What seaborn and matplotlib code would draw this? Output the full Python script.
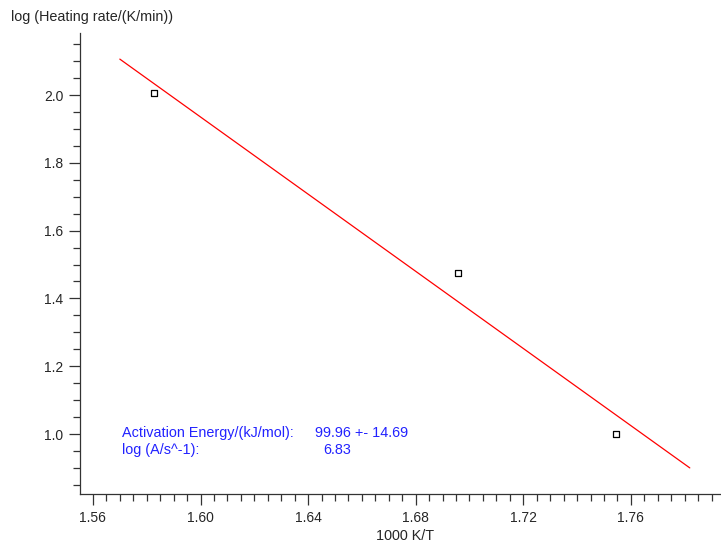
import matplotlib
matplotlib.use("Agg")
import matplotlib.pyplot as plt
import seaborn as sns
import pandas as pd
from matplotlib.ticker import MultipleLocator

inv_T = [1.5827, 1.6957, 1.7544]
log_rate = [2.006, 1.475, 1.000]
fit_x = [1.570, 1.7819]
fit_y = [2.106, 0.900]
xticks = [1.56, 1.60, 1.64, 1.68, 1.72, 1.76]
yticks = [1.0, 1.2, 1.4, 1.6, 1.8, 2.0]

sns.set_style("ticks")
plt.rcParams['font.family'] = ['Liberation Sans', 'DejaVu Sans']

fig = plt.figure(figsize=(7.21, 5.46), dpi=100)
ax = fig.add_axes([80/721, 52/546, 641/721, (494-33)/546])

pts = pd.DataFrame({"x": inv_T, "y": log_rate})
fit = pd.DataFrame({"x": fit_x, "y": fit_y})
sns.lineplot(data=fit, x="x", y="y", color="#ff0000", lw=0.9, ax=ax)
sns.scatterplot(data=pts, x="x", y="y", marker="s", s=22, facecolor="white",
                edgecolor="black", linewidth=0.9, ax=ax, zorder=3)

ax.set_xlim(1.5552, 1.7935)
ax.set_ylim(0.823, 2.183)
ax.set_xticks(xticks)
ax.set_xticklabels([f"{v:.2f}" for v in xticks])
ax.set_yticks(yticks)
ax.set_yticklabels([f"{v:.1f}" for v in yticks])
ax.xaxis.set_minor_locator(MultipleLocator(0.005))
ax.yaxis.set_minor_locator(MultipleLocator(0.05))
ax.tick_params(which="major", length=8, width=0.9, color="#333333", labelsize=10, pad=4)
ax.tick_params(which="minor", length=5, width=0.9, color="#333333")
for s in ["top", "right"]:
    ax.spines[s].set_visible(False)
for s in ["left", "bottom"]:
    ax.spines[s].set_linewidth(0.9)
    ax.spines[s].set_color("#333333")
ax.set_xlabel("")
ax.set_ylabel("")

fs = 10.4
fig.text(11/721, 1 - 17/546, "log (Heating rate/(K/min))", fontsize=fs, va="center", ha="left")
fig.text(405/721, 1 - 536/546, "1000 K/T", fontsize=fs, va="center", ha="center")

blue = "#2222ff"
fig.text(122/721, 1 - 433/546, "Activation Energy/(kJ/mol):", fontsize=fs, color=blue, va="center")
fig.text(315/721, 1 - 433/546, "99.96 +- 14.69", fontsize=fs, color=blue, va="center")
fig.text(122/721, 1 - 450/546, "log (A/s^-1):", fontsize=fs, color=blue, va="center")
fig.text(323/721, 1 - 450/546, "6.83", fontsize=fs, color=blue, va="center")

fig.savefig("out.png", dpi=100)
